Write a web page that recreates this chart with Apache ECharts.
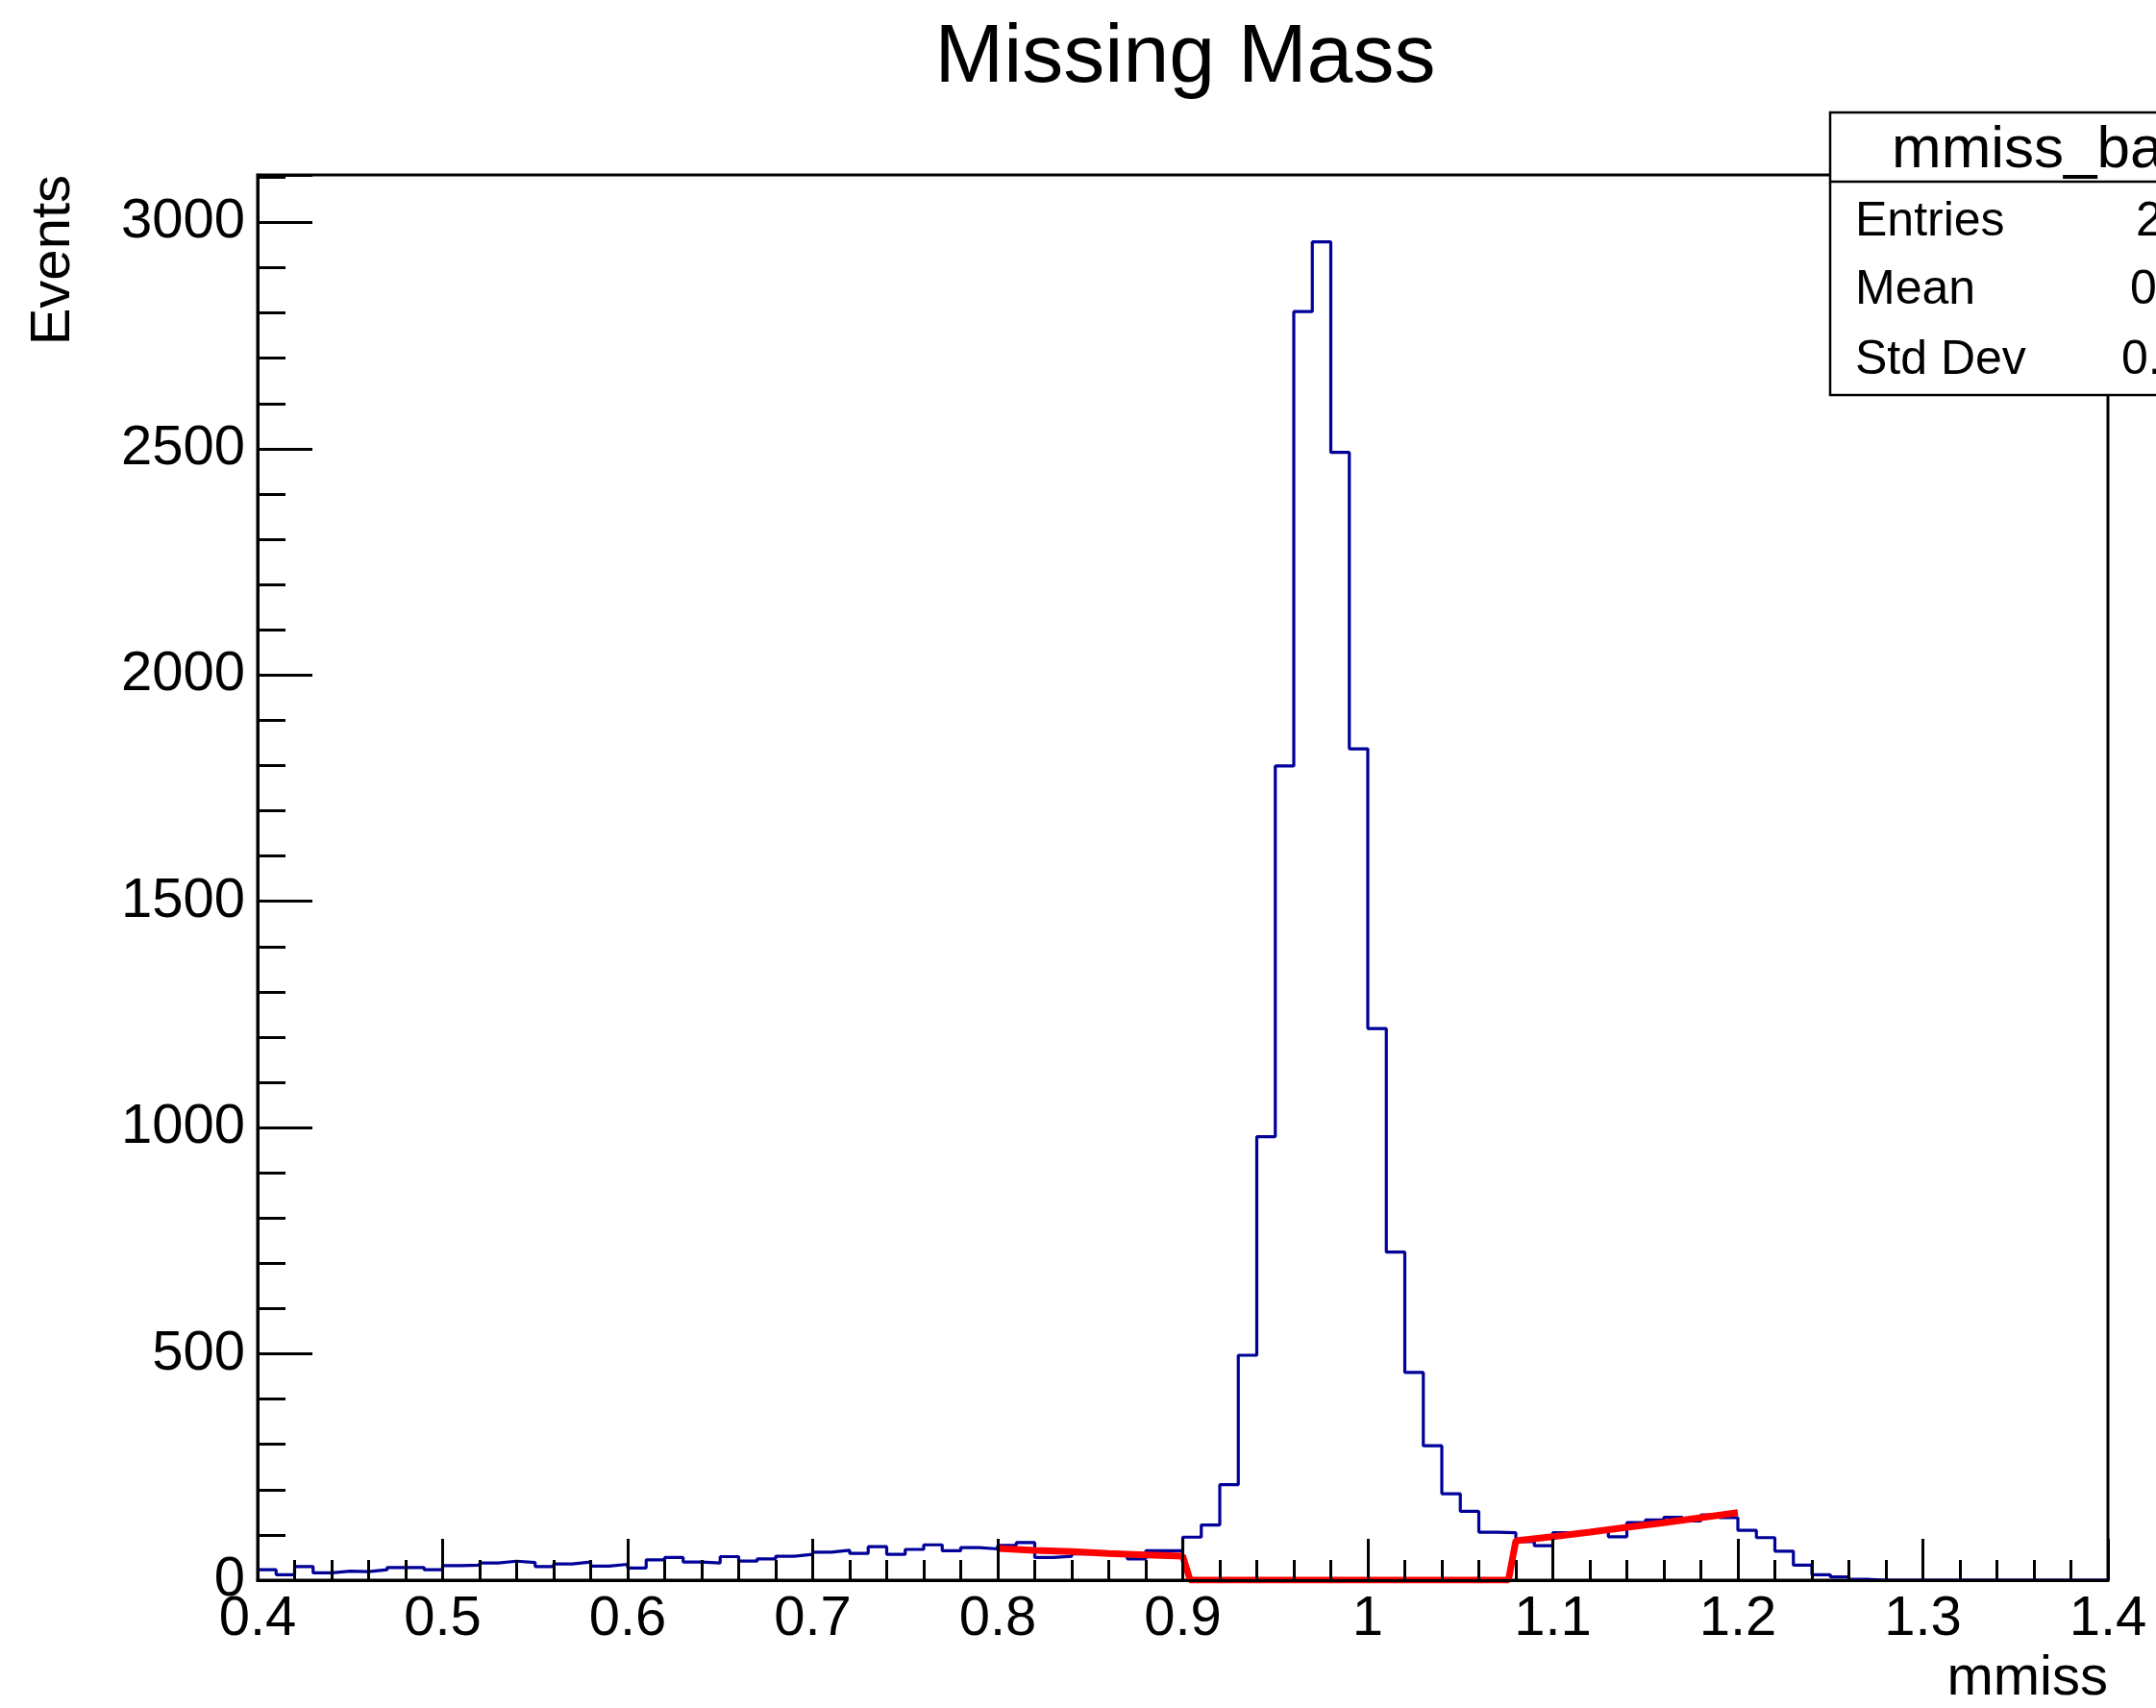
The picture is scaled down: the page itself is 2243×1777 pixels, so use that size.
<!DOCTYPE html>
<html>
<head>
<meta charset="utf-8">
<title>Missing Mass</title>
<script src="https://cdn.jsdelivr.net/npm/echarts@6/dist/echarts.min.js"></script>
<style>
  html, body { margin: 0; padding: 0; background: #fff; }
  #chart { width: 2243px; height: 1777px; }
</style>
</head>
<body>
<div id="chart"></div>
<script>
// histogram binning: 100 bins from 0.4 to 1.4
const binLow = 0.4;
const binWidth = 0.01;

// events per bin
const counts = [
  23, 12, 30, 16, 20, 19, 23, 28, 28, 23,
  32, 33, 38, 42, 39, 30, 36, 40, 31, 35,
  27, 45, 50, 40, 38, 52, 42, 47, 53, 57,
  62, 66, 59, 74, 57, 68, 78, 65, 72, 69,
  77, 83, 50, 53, 58, 62, 60, 47, 65, 65,
  95, 122, 211, 497, 980, 1799, 2803, 2957, 2492, 1837,
  1219, 725, 459, 297, 191, 152, 106, 105, 85, 76,
  105, 106, 110, 96, 127, 133, 139, 131, 144, 138,
  110, 94, 64, 33, 12, 7, 2, 0, 0, 0,
  0, 0, 0, 0, 0, 0, 0, 0, 0, 0
];

// background fit (red), zero inside the excluded peak window
const fitX = [0.8, 0.82, 0.84, 0.86, 0.88, 0.9, 0.904, 1.076, 1.08, 1.1, 1.12, 1.14, 1.16, 1.18, 1.2];
const fitY = [70, 66, 63, 59, 56, 53, 0, 0, 87, 96, 106, 117, 127, 138, 149];

// stats box rows (right part is cut by the canvas edge)
const statsTitle = "mmiss_ba";
const statsLabels = ["Entries", "Mean", "Std Dev"];
const statsValues = ["2", "0", "0."];

const FONT = "'Liberation Sans', Arial, Helvetica, sans-serif";
const yMax = 3105;

const histData = counts.map((v, i) => [binLow + i * binWidth, v]);
histData.push([binLow + counts.length * binWidth, counts[counts.length - 1]]);
const fitData = fitX.map((x, i) => [x, fitY[i]]);

const chart = echarts.init(document.getElementById("chart"), null, { renderer: "canvas" });

const statsRowY = [231, 302, 375];
const statsValueX = [2222, 2216, 2207];

const graphics = [
  {
    type: "text",
    x: 1233, y: 61,
    style: { text: "Missing Mass", font: "86px " + FONT, fill: "#000", textAlign: "center", textVerticalAlign: "middle" }
  },
  {
    type: "text",
    x: 56, y: 182, rotation: Math.PI / 2,
    style: { text: "Events", font: "58px " + FONT, fill: "#000", textAlign: "right", textVerticalAlign: "middle" }
  },
  {
    type: "text",
    x: 2193, y: 1747,
    style: { text: "mmiss", font: "58px " + FONT, fill: "#000", textAlign: "right", textVerticalAlign: "middle" }
  },
  {
    type: "rect",
    z: 10,
    shape: { x: 1904, y: 117, width: 400, height: 294 },
    style: { fill: "#fff", stroke: "#000", lineWidth: 2.5 }
  },
  {
    type: "line",
    z: 11,
    shape: { x1: 1904, y1: 189, x2: 2243, y2: 189 },
    style: { stroke: "#000", lineWidth: 2.5 }
  },
  {
    type: "text",
    z: 11,
    x: 1968, y: 157,
    style: { text: statsTitle, font: "62px " + FONT, fill: "#000", textAlign: "left", textVerticalAlign: "middle" }
  }
];

statsLabels.forEach((label, i) => {
  graphics.push({
    type: "text", z: 11, x: 1930, y: statsRowY[i],
    style: { text: label, font: "50px " + FONT, fill: "#000", textAlign: "left", textVerticalAlign: "middle" }
  });
  graphics.push({
    type: "text", z: 11, x: statsValueX[i], y: statsRowY[i],
    style: { text: statsValues[i], font: "50px " + FONT, fill: "#000", textAlign: "left", textVerticalAlign: "middle" }
  });
});

chart.setOption({
  animation: false,
  backgroundColor: "#fff",
  grid: {
    left: 268,
    top: 182,
    right: 50,
    bottom: 133,
    show: true,
    borderColor: "#000",
    borderWidth: 3,
    backgroundColor: "transparent"
  },
  xAxis: {
    type: "value",
    min: 0.4,
    max: 1.4,
    interval: 0.1,
    z: 3,
    axisLine: { show: true, lineStyle: { color: "#000", width: 3 } },
    axisTick: { show: true, inside: true, length: 43, lineStyle: { color: "#000", width: 3 } },
    minorTick: { show: true, splitNumber: 5, length: 21, lineStyle: { color: "#000", width: 3 } },
    axisLabel: { color: "#000", fontSize: 58, fontFamily: FONT, margin: 12 },
    splitLine: { show: false },
    minorSplitLine: { show: false }
  },
  yAxis: [
    {
      type: "value",
      min: 0,
      max: yMax,
      interval: 100,
      z: 3,
      axisLine: { show: true, lineStyle: { color: "#000", width: 3 } },
      axisTick: { show: true, inside: true, length: 29, lineStyle: { color: "#000", width: 3 } },
      axisLabel: { show: false },
      splitLine: { show: false }
    },
    {
      type: "value",
      position: "left",
      min: 0,
      max: yMax,
      interval: 500,
      z: 3,
      axisLine: { show: false },
      axisTick: { show: true, inside: true, length: 57, lineStyle: { color: "#000", width: 3 } },
      axisLabel: {
        color: "#000",
        fontSize: 58,
        fontFamily: FONT,
        margin: 13,
        formatter: (v) => (v % 500 === 0 ? String(v) : "")
      },
      splitLine: { show: false }
    }
  ],
  graphic: graphics,
  series: [
    {
      name: "mmiss",
      type: "line",
      step: "end",
      yAxisIndex: 0,
      data: histData,
      showSymbol: false,
      symbol: "none",
      lineStyle: { color: "#000099", width: 3.2 },
      z: 2
    },
    {
      name: "fit",
      type: "line",
      yAxisIndex: 0,
      data: fitData,
      showSymbol: false,
      symbol: "none",
      lineStyle: { color: "#ff0000", width: 7 },
      z: 2
    }
  ]
});
</script>
</body>
</html>
